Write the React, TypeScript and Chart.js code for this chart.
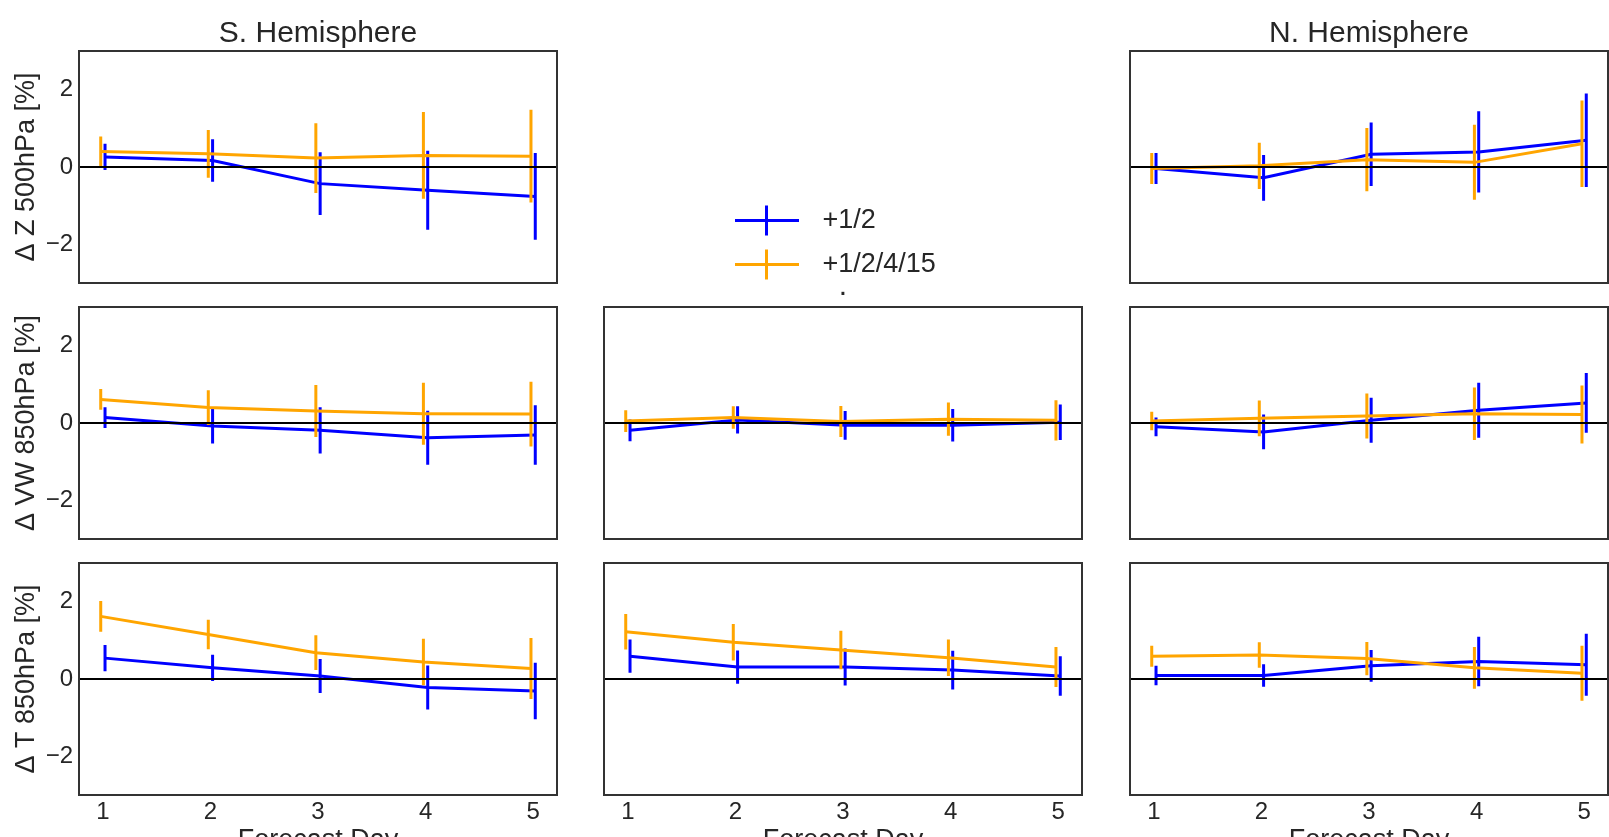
import React, { useEffect, useRef } from 'react';
import { Chart, registerables } from 'chart.js';

Chart.register(...registerables);

// ---------- text ----------
const seriesLabels = ['+1/2', '+1/2/4/15'];
const columnTitles = ['S. Hemisphere', 'Tropics', 'N. Hemisphere'];
const middlePanelTitle = '.';
const rowLabels = ['\u0394 Z 500hPa [%]', '\u0394 VW 850hPa [%]', '\u0394 T 850hPa [%]'];
const xAxisLabel = 'Forecast Day';

// ---------- axes ----------
const forecastDays = [1, 2, 3, 4, 5];
const xTicks = [1, 2, 3, 4, 5];
const yTicks = [-2, 0, 2];
const xRange = [0.778, 5.222];
const yRange = [-3, 3];
const blueShift = 0.02;
const orangeShift = -0.02;

// ---------- data (value, half-width of error bar) ----------
// Z 500hPa, S. Hemisphere
const zSouthBlue = [0.26, 0.17, -0.43, -0.6, -0.76];
const zSouthBlueErr = [0.34, 0.55, 0.81, 1.02, 1.12];
const zSouthOrange = [0.4, 0.34, 0.23, 0.3, 0.28];
const zSouthOrangeErr = [0.39, 0.62, 0.9, 1.12, 1.2];
// Z 500hPa, N. Hemisphere
const zNorthBlue = [-0.04, -0.28, 0.33, 0.39, 0.69];
const zNorthBlueErr = [0.4, 0.59, 0.82, 1.05, 1.21];
const zNorthOrange = [-0.04, 0.03, 0.19, 0.12, 0.6];
const zNorthOrangeErr = [0.4, 0.6, 0.82, 0.97, 1.12];
// VW 850hPa, S. Hemisphere
const vwSouthBlue = [0.14, -0.08, -0.19, -0.38, -0.31];
const vwSouthBlueErr = [0.27, 0.45, 0.6, 0.7, 0.77];
const vwSouthOrange = [0.61, 0.4, 0.31, 0.24, 0.23];
const vwSouthOrangeErr = [0.27, 0.45, 0.67, 0.8, 0.84];
// VW 850hPa, Tropics
const vwTropBlue = [-0.19, 0.08, -0.06, -0.06, 0.02];
const vwTropBlueErr = [0.28, 0.35, 0.37, 0.42, 0.46];
const vwTropOrange = [0.05, 0.14, 0.04, 0.1, 0.07];
const vwTropOrangeErr = [0.28, 0.29, 0.4, 0.43, 0.52];
// VW 850hPa, N. Hemisphere
const vwNorthBlue = [-0.1, -0.23, 0.07, 0.33, 0.52];
const vwNorthBlueErr = [0.24, 0.45, 0.58, 0.71, 0.77];
const vwNorthOrange = [0.05, 0.12, 0.18, 0.24, 0.22];
const vwNorthOrangeErr = [0.24, 0.46, 0.58, 0.68, 0.75];
// T 850hPa, S. Hemisphere
const tSouthBlue = [0.54, 0.29, 0.08, -0.22, -0.31];
const tSouthBlueErr = [0.34, 0.34, 0.44, 0.57, 0.73];
const tSouthOrange = [1.62, 1.15, 0.68, 0.44, 0.27];
const tSouthOrangeErr = [0.4, 0.38, 0.45, 0.6, 0.79];
// T 850hPa, Tropics
const tTropBlue = [0.59, 0.31, 0.31, 0.23, 0.08];
const tTropBlueErr = [0.43, 0.43, 0.48, 0.5, 0.51];
const tTropOrange = [1.22, 0.95, 0.75, 0.55, 0.31];
const tTropOrangeErr = [0.46, 0.47, 0.5, 0.47, 0.52];
// T 850hPa, N. Hemisphere
const tNorthBlue = [0.09, 0.09, 0.34, 0.45, 0.37];
const tNorthBlueErr = [0.25, 0.29, 0.41, 0.64, 0.8];
const tNorthOrange = [0.59, 0.62, 0.53, 0.29, 0.15];
const tNorthOrangeErr = [0.27, 0.33, 0.43, 0.54, 0.71];

const panels = [
  { row: 0, col: 0, blue: zSouthBlue, blueErr: zSouthBlueErr, orange: zSouthOrange, orangeErr: zSouthOrangeErr },
  { row: 0, col: 2, blue: zNorthBlue, blueErr: zNorthBlueErr, orange: zNorthOrange, orangeErr: zNorthOrangeErr },
  { row: 1, col: 0, blue: vwSouthBlue, blueErr: vwSouthBlueErr, orange: vwSouthOrange, orangeErr: vwSouthOrangeErr },
  { row: 1, col: 1, blue: vwTropBlue, blueErr: vwTropBlueErr, orange: vwTropOrange, orangeErr: vwTropOrangeErr },
  { row: 1, col: 2, blue: vwNorthBlue, blueErr: vwNorthBlueErr, orange: vwNorthOrange, orangeErr: vwNorthOrangeErr },
  { row: 2, col: 0, blue: tSouthBlue, blueErr: tSouthBlueErr, orange: tSouthOrange, orangeErr: tSouthOrangeErr },
  { row: 2, col: 1, blue: tTropBlue, blueErr: tTropBlueErr, orange: tTropOrange, orangeErr: tTropOrangeErr },
  { row: 2, col: 2, blue: tNorthBlue, blueErr: tNorthBlueErr, orange: tNorthOrange, orangeErr: tNorthOrangeErr },
];

// ---------- styling / layout ----------
const FONT = "'Liberation Sans', Arial, Helvetica, sans-serif";
const TEXT = '#262626';
const BLUE = '#0000ff';
const ORANGE = '#ffa500';
const FRAME = '#333333';
const COL_LEFT = [79, 604, 1130];
const ROW_TOP = [51, 307, 563];
const PLOT_W = 478;
const PLOT_H = 232;
const Y_AXIS_W = 79;
const TITLE_H = 43;
const X_AXIS_H = 62;
const RIGHT_PAD = 3;

Chart.defaults.font.family = FONT;
Chart.defaults.color = TEXT;

function fmtTick(v: number) {
  return v < 0 ? '\u2212' + Math.abs(v) : String(v);
}

function Panel({ spec }: { spec: any }) {
  const ref = useRef<HTMLCanvasElement>(null);
  useEffect(() => {
    const { row, col } = spec;
    const isBottom = row === 2;
    const isLeft = col === 0;
    let title = '';
    if (row === 0) title = columnTitles[col];
    if (row === 1 && col === 1) title = middlePanelTitle;
    const titleTopPad = title === middlePanelTitle ? 6 : 9;

    const series = [
      { label: seriesLabels[1], color: ORANGE, values: spec.orange, errs: spec.orangeErr, dx: orangeShift },
      { label: seriesLabels[0], color: BLUE, values: spec.blue, errs: spec.blueErr, dx: blueShift },
    ];

    const decor = {
      id: 'decor',
      afterDatasetDraw(chart: any, args: any) {
        const s = series[args.index];
        const { ctx } = chart;
        const x = chart.scales.x;
        const y = chart.scales.y;
        ctx.save();
        ctx.strokeStyle = s.color;
        ctx.lineWidth = 3;
        ctx.lineCap = 'butt';
        ctx.beginPath();
        forecastDays.forEach((d, i) => {
          const px = x.getPixelForValue(d + s.dx);
          ctx.moveTo(px, y.getPixelForValue(s.values[i] + s.errs[i]));
          ctx.lineTo(px, y.getPixelForValue(s.values[i] - s.errs[i]));
        });
        ctx.stroke();
        ctx.restore();
      },
      afterDatasetsDraw(chart: any) {
        const { ctx, chartArea: a } = chart;
        const y = chart.scales.y;
        ctx.save();
        const y0 = y.getPixelForValue(0);
        ctx.strokeStyle = '#000000';
        ctx.lineWidth = 2;
        ctx.beginPath();
        ctx.moveTo(a.left, y0);
        ctx.lineTo(a.right, y0);
        ctx.stroke();
        ctx.strokeStyle = FRAME;
        ctx.lineWidth = 2;
        ctx.strokeRect(a.left, a.top, a.right - a.left, a.bottom - a.top);
        ctx.restore();
      },
    };

    const chart = new Chart(ref.current!, {
      type: 'scatter',
      data: {
        datasets: series.map((s) => ({
          label: s.label,
          data: forecastDays.map((d, i) => ({ x: d + s.dx, y: s.values[i] })),
          showLine: true,
          borderColor: s.color,
          backgroundColor: s.color,
          borderWidth: 3,
          pointRadius: 0,
          pointHoverRadius: 0,
          tension: 0,
          xAxisID: 'x',
          yAxisID: 'y',
        })),
      },
      options: {
        animation: false,
        responsive: false,
        events: [],
        layout: { padding: { left: 0, right: RIGHT_PAD, top: 0, bottom: 0 } },
        plugins: {
          legend: { display: false },
          tooltip: { enabled: false },
          title: { display: false },
        },
        scales: {
          x: {
            type: 'linear',
            position: 'bottom',
            min: xRange[0],
            max: xRange[1],
            grid: { display: false, drawTicks: false },
            border: { display: false },
            afterBuildTicks: (scale: any) => {
              scale.ticks = xTicks.map((v) => ({ value: v }));
            },
            afterFit: (scale: any) => {
              scale.height = X_AXIS_H;
            },
            ticks: {
              display: isBottom,
              padding: 3,
              color: TEXT,
              font: { size: 24 },
              maxRotation: 0,
              callback: (v: any) => fmtTick(Number(v)),
            },
            title: {
              display: isBottom,
              text: xAxisLabel,
              color: TEXT,
              font: { size: 27 },
              padding: { top: 0, bottom: 0 },
            },
          },
          xTop: {
            type: 'linear',
            axis: 'x',
            position: 'top',
            min: xRange[0],
            max: xRange[1],
            grid: { display: false, drawTicks: false },
            border: { display: false },
            afterBuildTicks: (scale: any) => {
              scale.ticks = xTicks.map((v) => ({ value: v }));
            },
            afterFit: (scale: any) => {
              scale.height = TITLE_H;
            },
            ticks: { display: false },
            title: {
              display: !!title,
              text: title || ' ',
              color: TEXT,
              font: { size: 30, lineHeight: 1.1 },
              padding: { top: titleTopPad, bottom: 0 },
            },
          },
          y: {
            type: 'linear',
            min: yRange[0],
            max: yRange[1],
            grid: { display: false, drawTicks: false },
            border: { display: false },
            afterBuildTicks: (scale: any) => {
              scale.ticks = yTicks.map((v) => ({ value: v }));
            },
            afterFit: (scale: any) => {
              scale.width = Y_AXIS_W;
            },
            ticks: {
              display: isLeft,
              padding: 6,
              color: TEXT,
              font: { size: 24 },
              callback: (v: any) => fmtTick(Number(v)),
            },
            title: {
              display: isLeft,
              text: rowLabels[row],
              color: TEXT,
              font: { size: 27 },
              padding: { top: 10, bottom: 0 },
            },
          },
        },
      },
      plugins: [decor],
    } as any);
    return () => chart.destroy();
  }, [spec]);

  const w = Y_AXIS_W + PLOT_W + RIGHT_PAD;
  const h = TITLE_H + PLOT_H + X_AXIS_H;
  return (
    <canvas
      ref={ref}
      width={w}
      height={h}
      style={{
        position: 'absolute',
        left: COL_LEFT[spec.col] - Y_AXIS_W,
        top: ROW_TOP[spec.row] - TITLE_H,
        width: w,
        height: h,
      }}
    />
  );
}

function makeMarker(color: string) {
  const c = document.createElement('canvas');
  c.width = 64;
  c.height = 33;
  const g = c.getContext('2d')!;
  g.strokeStyle = color;
  g.lineWidth = 3;
  g.beginPath();
  g.moveTo(0, 16.5);
  g.lineTo(64, 16.5);
  g.moveTo(31.5, 1.5);
  g.lineTo(31.5, 31.5);
  g.stroke();
  return c;
}

function LegendBox() {
  const ref = useRef<HTMLCanvasElement>(null);
  useEffect(() => {
    const colors = [BLUE, ORANGE];
    const markers = colors.map(makeMarker);
    const chart = new Chart(ref.current!, {
      type: 'scatter',
      data: {
        datasets: seriesLabels.map((label, i) => ({
          label,
          data: [],
          borderColor: colors[i],
          backgroundColor: colors[i],
        })),
      },
      options: {
        animation: false,
        responsive: false,
        events: [],
        scales: { x: { display: false }, y: { display: false } },
        plugins: {
          tooltip: { enabled: false },
          legend: {
            display: true,
            position: 'top',
            align: 'start',
            labels: {
              usePointStyle: true,
              pointStyleWidth: 84,
              padding: 17,
              color: TEXT,
              font: { size: 27 },
              generateLabels: () =>
                seriesLabels.map((label, i) => ({
                  text: label,
                  fillStyle: colors[i],
                  strokeStyle: colors[i],
                  lineWidth: 0,
                  pointStyle: markers[i],
                  hidden: false,
                  datasetIndex: i,
                  fontColor: TEXT,
                })),
            },
          },
        },
      },
    } as any);
    return () => chart.destroy();
  }, []);
  return (
    <canvas
      ref={ref}
      width={280}
      height={240}
      style={{ position: 'absolute', left: 708, top: 190, width: 280, height: 240 }}
    />
  );
}

export default function App() {
  return (
    <div
      style={{
        position: 'fixed',
        left: 0,
        top: 0,
        width: 1609,
        height: 837,
        overflow: 'hidden',
        background: '#ffffff',
      }}
    >
      {panels.map((p) => (
        <Panel key={`${p.row}-${p.col}`} spec={p} />
      ))}
      <LegendBox />
    </div>
  );
}
